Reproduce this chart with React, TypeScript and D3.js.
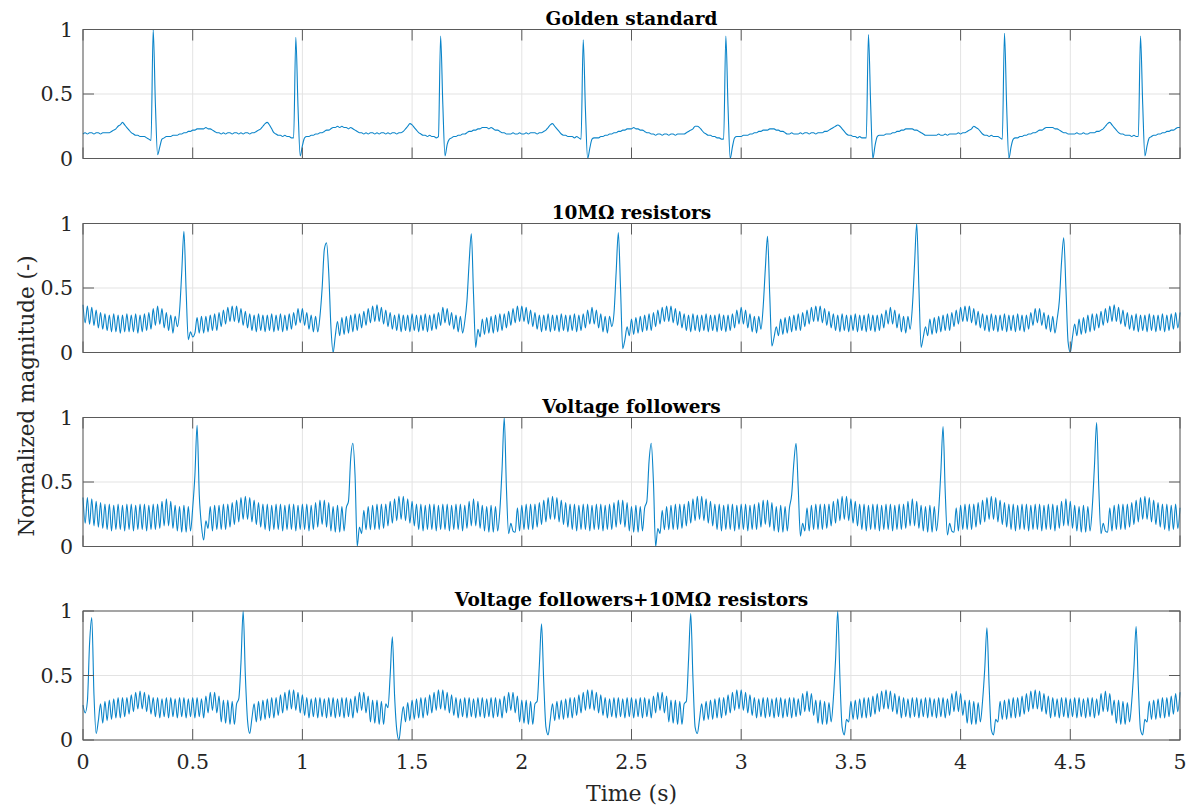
import { useEffect, useRef } from 'react';
import * as d3 from 'd3';

// ECG traces sampled every 10 ms from 0 to 5 s, values in hundredths of the normalized magnitude
const sampleStep = 0.01;

const golden = [
  19,20,19,20,20,19,20,20,19,20, 20,20,20,21,22,23,25,26,28,26, 24,22,20,19,18,18,17,17,17,16,
  15,14,100,42,3,9,15,16,17,17, 17,18,18,18,19,19,20,20,21,21, 22,22,23,23,23,23,24,23,23,22,
  21,20,20,19,20,19,20,20,19,20, 20,19,20,19,20,20,19,20,20,21, 22,23,25,27,28,26,23,20,19,18,
  18,17,18,17,17,16,16,94,40,2, 10,16,17,17,18,18,19,19,20,20, 21,22,22,23,24,24,25,24,25,24,
  24,23,24,23,22,21,20,20,19,20, 19,20,20,19,20,19,20,20,19,20, 19,20,20,19,20,20,21,23,25,27,
  26,24,22,20,19,18,18,17,18,17, 17,16,17,95,42,2,11,15,16,17, 17,18,18,19,19,20,21,21,22,22,
  23,23,24,24,24,23,24,23,22,22, 21,20,20,19,19,19,20,19,19,20, 19,19,20,19,20,20,20,19,20,20,
  21,22,24,26,27,25,23,21,19,18, 18,17,17,17,16,17,16,15,92,38, 0,8,15,16,16,16,17,17,18,18,
  19,19,20,20,21,21,22,22,23,23, 23,24,23,23,22,22,21,20,20,19, 19,18,19,19,18,19,19,18,19,19,
  18,19,19,19,19,20,21,22,23,25, 25,24,22,20,19,18,18,17,17,16, 16,15,15,95,40,0,9,16,17,17,
  17,18,18,18,19,19,20,20,21,21, 22,22,22,23,23,23,22,22,21,21, 20,19,19,20,19,19,19,20,19,20,
  20,19,20,20,19,20,20,20,21,21, 22,23,24,25,26,25,23,21,19,18, 18,17,17,16,17,16,16,16,96,42,
  0,10,17,18,18,18,19,19,19,20, 20,21,21,22,22,23,23,23,23,22, 22,21,20,19,18,18,18,18,18,18,
  19,18,18,19,18,19,19,19,19,20, 19,20,20,21,22,23,25,24,23,21, 19,18,18,17,18,17,17,17,16,15,
  97,40,0,9,15,16,16,17,17,18, 18,19,19,20,20,21,22,22,23,24, 24,24,24,23,23,22,21,20,20,19,
  19,19,19,20,19,19,20,19,19,20, 20,20,21,21,22,23,25,27,28,26, 24,22,20,19,19,18,18,18,17,18,
  17,17,95,42,2,10,16,17,18,18, 19,19,20,20,21,21,22,22,23,24, 24,
];

const tenMeg = [
  37,23,36,22,35,21,33,19,31,18, 30,17,29,16,30,16,29,15,29,16, 30,16,29,16,30,15,29,16,30,17,
  31,18,34,21,36,22,34,19,31,17, 29,15,28,20,32,62,94,48,10,16, 12,15,27,15,28,15,28,16,29,17,
  30,17,31,20,33,22,35,24,36,24, 36,23,34,21,32,19,30,17,29,16, 30,17,29,16,29,17,30,16,29,17,
  30,16,29,17,30,18,31,21,34,23, 34,21,31,18,29,16,28,16,28,50, 80,85,62,20,0,13,24,13,27,14,
  28,15,29,16,30,17,30,19,32,21, 34,23,36,24,37,24,35,22,33,20, 31,18,29,17,30,16,29,17,29,16,
  30,17,29,16,29,17,30,16,29,17, 30,18,31,21,35,23,34,21,31,18, 29,16,28,15,24,40,70,92,45,4,
  18,12,26,14,27,15,28,15,29,16, 30,17,30,19,32,21,34,23,36,24, 36,24,35,22,33,20,31,18,29,16,
  29,17,30,16,29,17,29,16,30,17, 29,16,29,17,30,16,29,17,30,19, 33,22,35,22,33,19,30,16,28,15,
  28,20,30,62,93,50,3,10,20,13, 26,14,27,15,28,16,29,17,30,17, 31,20,33,22,35,24,36,24,36,23,
  34,21,32,19,30,17,29,16,30,17, 29,16,29,17,30,16,29,17,29,16, 30,17,29,16,29,17,30,19,33,22,
  35,22,33,19,30,16,28,15,28,18, 35,65,90,45,5,12,20,13,26,14, 27,15,28,16,29,17,30,17,31,20,
  33,22,35,24,36,24,36,23,34,21, 32,19,30,17,29,16,30,17,29,16, 29,17,30,16,29,17,29,16,30,17,
  29,16,29,17,30,19,33,22,35,22, 33,19,30,16,28,15,28,18,35,68, 100,50,4,12,20,13,26,14,27,15,
  28,16,29,17,30,17,31,20,33,22, 35,24,36,24,36,23,34,21,32,19, 30,17,29,16,30,17,29,16,29,17,
  30,16,29,17,29,16,30,17,29,16, 29,18,31,21,34,23,34,21,31,18, 29,16,28,15,26,40,70,89,50,8,
  0,12,22,13,26,14,27,15,29,16, 30,17,30,19,32,21,34,23,36,24, 37,24,35,22,33,20,31,18,29,17,
  30,16,29,17,29,16,30,17,29,16, 29,17,30,16,29,17,30,18,31,19, 31,
];

const followers = [
  38,18,38,17,37,16,35,15,34,14, 33,13,33,12,32,13,33,13,32,12, 33,13,33,12,32,13,33,13,33,12,
  32,13,33,13,33,14,35,16,37,16, 35,14,32,12,31,11,32,11,31,12, 30,55,94,40,16,5,20,14,31,12,
  32,13,32,13,33,13,33,15,34,17, 36,19,38,21,39,21,38,19,36,17, 34,15,33,13,33,12,32,13,33,13,
  33,12,32,13,33,13,33,12,32,13, 33,13,33,12,32,13,34,15,36,17, 36,15,34,12,31,11,32,11,31,12,
  30,35,68,80,55,0,15,10,28,13, 31,13,32,13,33,13,33,14,33,16, 35,18,37,20,39,21,39,20,37,18,
  35,16,33,13,33,12,32,13,33,13, 33,12,32,13,33,13,33,12,32,13, 33,13,33,12,32,14,35,16,37,16,
  35,14,32,12,31,11,32,11,31,12, 28,60,100,45,10,18,12,11,30,12, 32,13,33,13,33,13,33,15,34,17,
  36,19,38,21,39,21,38,19,36,17, 34,15,33,13,33,12,32,13,33,13, 33,12,32,13,33,13,33,12,32,13,
  33,13,34,15,36,17,36,15,34,12, 31,11,32,11,31,12,30,35,66,80, 50,0,14,10,28,13,31,13,32,13,
  33,13,33,14,33,16,35,18,37,20, 39,21,39,20,37,18,35,16,33,13, 33,12,32,13,33,13,33,12,32,13,
  33,13,33,12,32,13,33,13,34,15, 36,17,36,15,34,12,31,11,32,11, 31,12,30,40,65,80,45,8,18,12,
  30,12,32,13,33,13,33,13,33,14, 33,16,35,18,37,20,39,21,39,20, 37,18,35,16,33,13,33,12,32,13,
  33,13,33,12,32,13,33,13,33,12, 32,13,33,13,33,14,35,16,37,16, 35,14,32,12,31,11,32,11,31,12,
  28,58,93,42,9,18,12,11,30,12, 32,13,33,13,33,13,33,15,34,17, 36,19,38,21,39,21,38,19,36,17,
  34,15,33,13,33,12,32,13,33,13, 33,12,32,13,33,13,33,12,32,13, 33,13,33,12,32,14,35,16,37,16,
  35,14,32,12,31,11,32,11,31,12, 30,62,96,45,10,18,12,11,30,12, 32,13,33,13,33,13,33,15,34,17,
  36,19,38,21,39,21,38,19,36,17, 34,15,33,13,33,12,32,13,33,14, 30,
];

const followersTenMeg = [
  27,21,30,75,95,35,5,15,28,13, 30,15,31,16,32,17,33,17,33,18, 33,20,35,22,37,24,38,24,37,22,
  35,20,33,18,33,17,32,18,33,17, 33,18,32,17,33,18,33,17,32,18, 33,17,33,18,32,17,34,21,37,23,
  37,21,34,14,31,13,31,12,30,12, 28,32,60,100,50,15,5,17,28,14, 30,15,31,16,32,17,33,17,33,19,
  35,21,37,23,39,24,39,23,37,21, 35,19,33,17,32,18,33,17,33,18, 32,17,33,18,33,17,32,18,33,17,
  33,18,32,17,34,21,37,23,37,21, 34,14,31,13,31,12,30,12,28,25, 50,80,35,8,0,14,26,14,29,15,
  31,16,32,17,33,17,33,19,35,21, 37,23,39,24,39,23,37,21,35,19, 33,17,32,18,33,17,33,18,32,17,
  33,18,33,17,32,18,33,17,33,18, 32,17,34,21,37,23,37,21,34,14, 31,13,31,12,30,12,28,30,58,90,
  45,10,4,16,28,15,30,16,31,16, 32,17,33,17,33,19,35,21,37,23, 39,24,39,23,37,21,35,19,33,17,
  32,18,33,17,33,18,32,17,33,18, 33,17,32,18,33,17,33,18,32,17, 34,21,37,23,37,21,34,14,31,13,
  31,12,30,12,28,30,62,98,48,10, 5,16,28,15,30,16,31,16,32,17, 33,17,33,19,35,21,37,23,39,24,
  39,23,37,21,35,19,33,17,32,18, 33,17,33,18,32,17,33,18,33,17, 32,18,33,17,33,18,32,19,36,22,
  38,22,36,19,31,13,31,12,30,12, 29,14,32,62,100,48,10,4,16,14, 30,16,31,16,32,17,33,17,33,18,
  34,20,36,22,38,24,39,24,38,22, 36,20,34,17,33,18,32,17,33,18, 33,17,32,18,33,17,33,18,32,17,
  33,18,33,17,32,19,36,22,38,22, 36,19,31,13,31,12,30,12,29,14, 30,55,87,42,8,4,16,14,30,16,
  31,16,32,17,33,17,33,18,34,20, 36,22,38,24,39,24,38,22,36,20, 34,17,33,18,32,17,33,18,33,17,
  32,18,33,17,33,18,32,17,33,18, 33,17,32,19,36,22,38,22,36,19, 31,13,31,12,30,12,29,14,30,56,
  88,42,8,4,16,14,30,16,31,16, 32,17,33,17,33,18,34,20,36,22, 37,
];

const panelTitles = ['Golden standard', '10MΩ resistors', 'Voltage followers', 'Voltage followers+10MΩ resistors'];
const panelSeries = [golden, tenMeg, followers, followersTenMeg];
const xTicks = [0, 0.5, 1, 1.5, 2, 2.5, 3, 3.5, 4, 4.5, 5];
const xTickLabels = ['0', '0.5', '1', '1.5', '2', '2.5', '3', '3.5', '4', '4.5', '5'];
const yTicks = [0, 0.5, 1];
const yTickLabels = ['0', '0.5', '1'];

const ECGChart = () => {
  const svgRef = useRef(null);

  useEffect(() => {
    const width = 1190;
    const height = 807;
    const left = 83;
    const right = 1180;
    const panelTops = [29.5, 223.5, 417.5, 611];
    const panelH = 129;
    const tickLen = 11;
    const font = '"DejaVu Serif", serif';
    const axisColor = '#5a5a5a';

    const svg = d3.select(svgRef.current)
      .attr('width', width)
      .attr('height', height);

    svg.selectAll('*').remove();

    svg.append('rect').attr('width', width).attr('height', height).attr('fill', '#fff');

    const x = d3.scaleLinear().domain([0, 5]).range([left, right]);

    panelSeries.forEach((series, p) => {
      const y = d3.scaleLinear().domain([0, 1]).range([panelTops[p] + panelH, panelTops[p]]);
      const g = svg.append('g');

      // grid
      g.selectAll('.vgrid')
        .data(xTicks)
        .enter().append('line')
        .attr('x1', d => x(d)).attr('x2', d => x(d))
        .attr('y1', y(0)).attr('y2', y(1))
        .attr('stroke', '#e3e3e3').attr('stroke-width', 1);

      g.selectAll('.hgrid')
        .data(yTicks)
        .enter().append('line')
        .attr('x1', left).attr('x2', right)
        .attr('y1', d => y(d)).attr('y2', d => y(d))
        .attr('stroke', '#e3e3e3').attr('stroke-width', 1);

      const line = d3.line<number>()
        .x((d, i) => x(i * sampleStep))
        .y(d => y(d / 100))
        .curve(d3.curveMonotoneX);

      g.append('path')
        .datum(series)
        .attr('fill', 'none')
        .attr('stroke', '#0a84c9')
        .attr('stroke-width', 1.1)
        .attr('stroke-linejoin', 'round')
        .attr('d', line);

      // box
      g.append('rect')
        .attr('x', left).attr('y', y(1))
        .attr('width', right - left).attr('height', y(0) - y(1))
        .attr('fill', 'none')
        .attr('stroke', axisColor).attr('stroke-width', 1);

      // inward ticks
      xTicks.forEach(t => {
        g.append('line')
          .attr('x1', x(t)).attr('x2', x(t))
          .attr('y1', y(0)).attr('y2', y(0) - tickLen)
          .attr('stroke', axisColor);
        g.append('line')
          .attr('x1', x(t)).attr('x2', x(t))
          .attr('y1', y(1)).attr('y2', y(1) + tickLen)
          .attr('stroke', axisColor);
      });
      yTicks.forEach(t => {
        g.append('line')
          .attr('x1', left).attr('x2', left + tickLen)
          .attr('y1', y(t)).attr('y2', y(t))
          .attr('stroke', axisColor);
        g.append('line')
          .attr('x1', right).attr('x2', right - tickLen)
          .attr('y1', y(t)).attr('y2', y(t))
          .attr('stroke', axisColor);
      });

      g.selectAll('.ylab')
        .data(yTicks)
        .enter().append('text')
        .attr('x', left - 10)
        .attr('y', d => y(d))
        .attr('dy', '0.36em')
        .attr('text-anchor', 'end')
        .attr('font-family', font)
        .attr('font-size', 20.5)
        .attr('fill', '#262626')
        .text((d, i) => yTickLabels[i]);

      g.append('text')
        .attr('x', (left + right) / 2)
        .attr('y', panelTops[p] - 5)
        .attr('text-anchor', 'middle')
        .attr('font-family', font)
        .attr('font-weight', 'bold')
        .attr('font-size', 18.5)
        .attr('fill', '#000')
        .text(panelTitles[p]);

      if (p === panelSeries.length - 1) {
        g.selectAll('.xlab')
          .data(xTicks)
          .enter().append('text')
          .attr('x', d => x(d))
          .attr('y', y(0) + 29)
          .attr('text-anchor', 'middle')
          .attr('font-family', font)
          .attr('font-size', 20.5)
          .attr('fill', '#262626')
          .text((d, i) => xTickLabels[i]);
      }
    });

    svg.append('text')
      .attr('x', (left + right) / 2)
      .attr('y', 801)
      .attr('text-anchor', 'middle')
      .attr('font-family', font)
      .attr('font-size', 22)
      .attr('fill', '#262626')
      .text('Time (s)');

    svg.append('text')
      .attr('transform', 'translate(34, 396) rotate(-90)')
      .attr('text-anchor', 'middle')
      .attr('font-family', font)
      .attr('font-size', 21.5)
      .attr('fill', '#262626')
      .text('Normalized magnitude (-)');
  }, []);

  return (
    <div style={{ position: 'absolute', left: 0, top: 0 }}>
      <svg ref={svgRef} style={{ display: 'block' }}></svg>
    </div>
  );
};

export default function App() {
  return <ECGChart />;
}
